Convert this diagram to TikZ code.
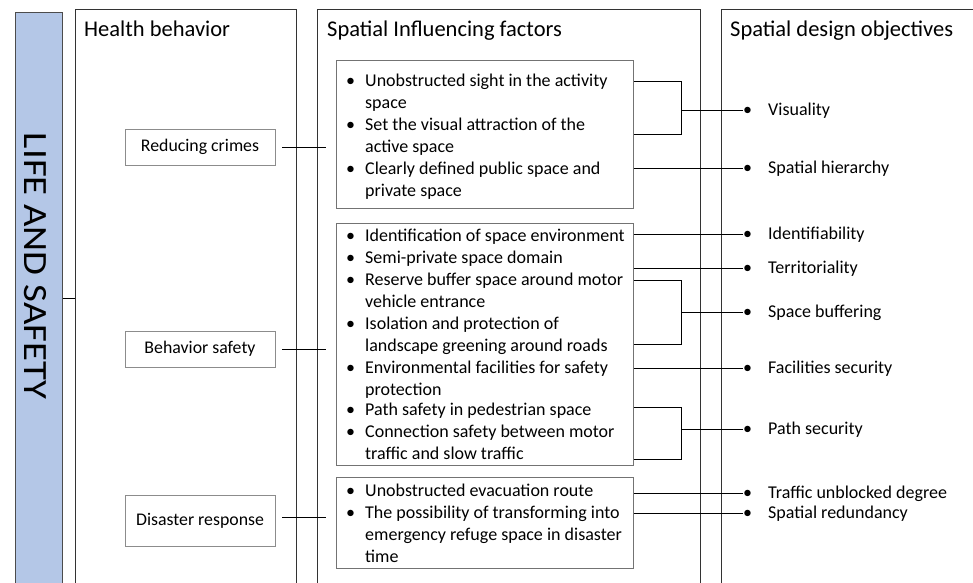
\documentclass[tikz,border=0pt]{standalone}
\usepackage{fontspec}
\setmainfont{Carlito}
\newcommand\bulmark{\makebox[22pt][l]{\hspace{3pt}\textbullet}}
\newcommand\hangpad{\hspace*{22pt}}
\newcommand\factorlines[1]{\begin{tabular}[t]{@{}l@{}}#1\end{tabular}}
\definecolor{barblue}{HTML}{B4C7E7}
\begin{document}
\begin{tikzpicture}[x=1pt,y=-1pt,
  column/.style={draw=black!80, line width=0.8pt, anchor=north west, inner sep=0pt},
  head/.style={anchor=base west, inner sep=0pt, font=\fontsize{22.5}{26}\selectfont},
  labelbox/.style={draw=black!45, line width=0.8pt, minimum width=150pt, inner sep=0pt, text height=13pt, text depth=4.5pt, font=\fontsize{17.8}{20}\selectfont},
  factorbox/.style={draw=black!55, line width=0.8pt, anchor=north west, minimum width=297pt, inner sep=0pt},
  item/.style={anchor=base west, inner sep=0pt, font=\fontsize{18}{22}\selectfont},
  objective/.style={anchor=west, inner sep=0pt, text height=14pt, text depth=4pt, font=\fontsize{18}{22}\selectfont},
  conn/.style={draw=black, line width=1pt}]
\clip (0,0) rectangle (973,582);
\useasboundingbox (0,0) rectangle (973,582);

% side bar
\node[draw=black!70, fill=barblue, line width=0.8pt, anchor=north west, minimum width=47pt, minimum height=600pt, inner sep=0pt] (bar) at (15,12) {};
\node[rotate=-90, inner sep=0pt, font=\fontsize{34}{34}\selectfont] (lifetxt) at (35.5,266) {\scalebox{1.14}[1]{LIFE AND SAFETY}};

% columns
\node[column, minimum width=221pt, minimum height=600pt] (col1) at (75,9) {};
\node[column, minimum width=383pt, minimum height=600pt] (col2) at (317,9) {};
\node[column, minimum width=300pt, minimum height=600pt] (col3) at (721,9) {};
\node[head] (h1) at (84,36) {Health behavior};
\node[head] (h2) at (327,36) {Spatial Influencing factors};
\node[head] (h3) at (730,36) {Spatial design objectives};

% health behaviours
\node[labelbox, minimum height=36pt] (rc) at (200,147) {Reducing crimes};
\node[labelbox, minimum height=36pt] (bs) at (200,349) {Behavior safety};
\node[labelbox, minimum height=51pt] (dr) at (200,521) {Disaster response};

% influencing factors
\node[factorbox, minimum height=148pt] (f1) at (336,60) {};
\node[factorbox, minimum height=242pt] (f2) at (336,223) {};
\node[factorbox, minimum height=91pt] (f3) at (336,477) {};

\node[item] (i1) at (343,86) {\factorlines{\bulmark Unobstructed sight in the activity\\\hangpad space}};
\node[item] (i2) at (343,130) {\factorlines{\bulmark Set the visual attraction of the\\\hangpad active space}};
\node[item] (i3) at (343,174) {\factorlines{\bulmark Clearly defined public space and\\\hangpad private space}};
\node[item] (i4) at (343,241) {\factorlines{\bulmark Identification of space environment}};
\node[item] (i5) at (343,263) {\factorlines{\bulmark Semi-private space domain}};
\node[item] (i6) at (343,285) {\factorlines{\bulmark Reserve buffer space around motor\\\hangpad vehicle entrance}};
\node[item] (i7) at (343,329) {\factorlines{\bulmark Isolation and protection of\\\hangpad landscape greening around roads}};
\node[item] (i8) at (343,373) {\factorlines{\bulmark Environmental facilities for safety\\\hangpad protection}};
\node[item] (i9) at (343,415) {\factorlines{\bulmark Path safety in pedestrian space}};
\node[item] (i10) at (343,437) {\factorlines{\bulmark Connection safety between motor\\\hangpad traffic and slow traffic}};
\node[item] (i11) at (343,496) {\factorlines{\bulmark Unobstructed evacuation route}};
\node[item] (i12) at (343,518) {\factorlines{\bulmark The possibility of transforming into\\\hangpad emergency refuge space in disaster\\\hangpad time}};

% design objectives
\node[objective] (o1) at (743,110) {\makebox[25pt][l]{\textbullet}Visuality};
\node[objective] (o2) at (743,168) {\makebox[25pt][l]{\textbullet}Spatial hierarchy};
\node[objective] (o3) at (743,234) {\makebox[25pt][l]{\textbullet}Identifiability};
\node[objective] (o4) at (743,268) {\makebox[25pt][l]{\textbullet}Territoriality};
\node[objective] (o5) at (743,312) {\makebox[25pt][l]{\textbullet}Space buffering};
\node[objective] (o6) at (743,368) {\makebox[25pt][l]{\textbullet}Facilities security};
\node[objective] (o7) at (743,429) {\makebox[25pt][l]{\textbullet}Path security};
\node[objective] (o8) at (743,493) {\makebox[25pt][l]{\textbullet}Traffic unblocked degree};
\node[objective] (o9) at (743,513) {\makebox[25pt][l]{\textbullet}Spatial redundancy};

% connectors
\coordinate (lj) at (62,298);
\draw[conn] (bar.east |- lj) -- (lj -| col1.west);
\draw[conn, shorten <=7pt, shorten >=10pt] (rc.east) -- (rc.east -| f1.west);
\draw[conn, shorten <=7pt, shorten >=10pt] (bs.east) -- (bs.east -| f2.west);
\draw[conn, shorten <=7pt, shorten >=10pt] ([yshift=4pt]dr.east) -- ([yshift=4pt]dr.east -| f3.west);

\coordinate (bx) at (681,0);
\coordinate (ya) at (0,81);  \coordinate (yb) at (0,134);
\coordinate (yc) at (0,280); \coordinate (yd) at (0,344);
\coordinate (ye) at (0,407); \coordinate (yf) at (0,459);

\draw[conn] (f1.east |- ya) -- (bx |- ya) -- (bx |- yb) -- (f1.east |- yb);
\draw[conn] (bx |- o1.west) -- (o1.west);
\draw[conn] (f1.east |- o2.west) -- (o2.west);
\draw[conn] (f2.east |- o3.west) -- (o3.west);
\draw[conn] (f2.east |- o4.west) -- (o4.west);
\draw[conn] (f2.east |- yc) -- (bx |- yc) -- (bx |- yd) -- (f2.east |- yd);
\draw[conn] (bx |- o5.west) -- (o5.west);
\draw[conn] (f2.east |- o6.west) -- (o6.west);
\draw[conn] (f2.east |- ye) -- (bx |- ye) -- (bx |- yf) -- (f2.east |- yf);
\draw[conn] (bx |- o7.west) -- (o7.west);
\draw[conn] (f3.east |- o8.west) -- (o8.west);
\draw[conn] (f3.east |- o9.west) -- (o9.west);
\end{tikzpicture}
\end{document}
